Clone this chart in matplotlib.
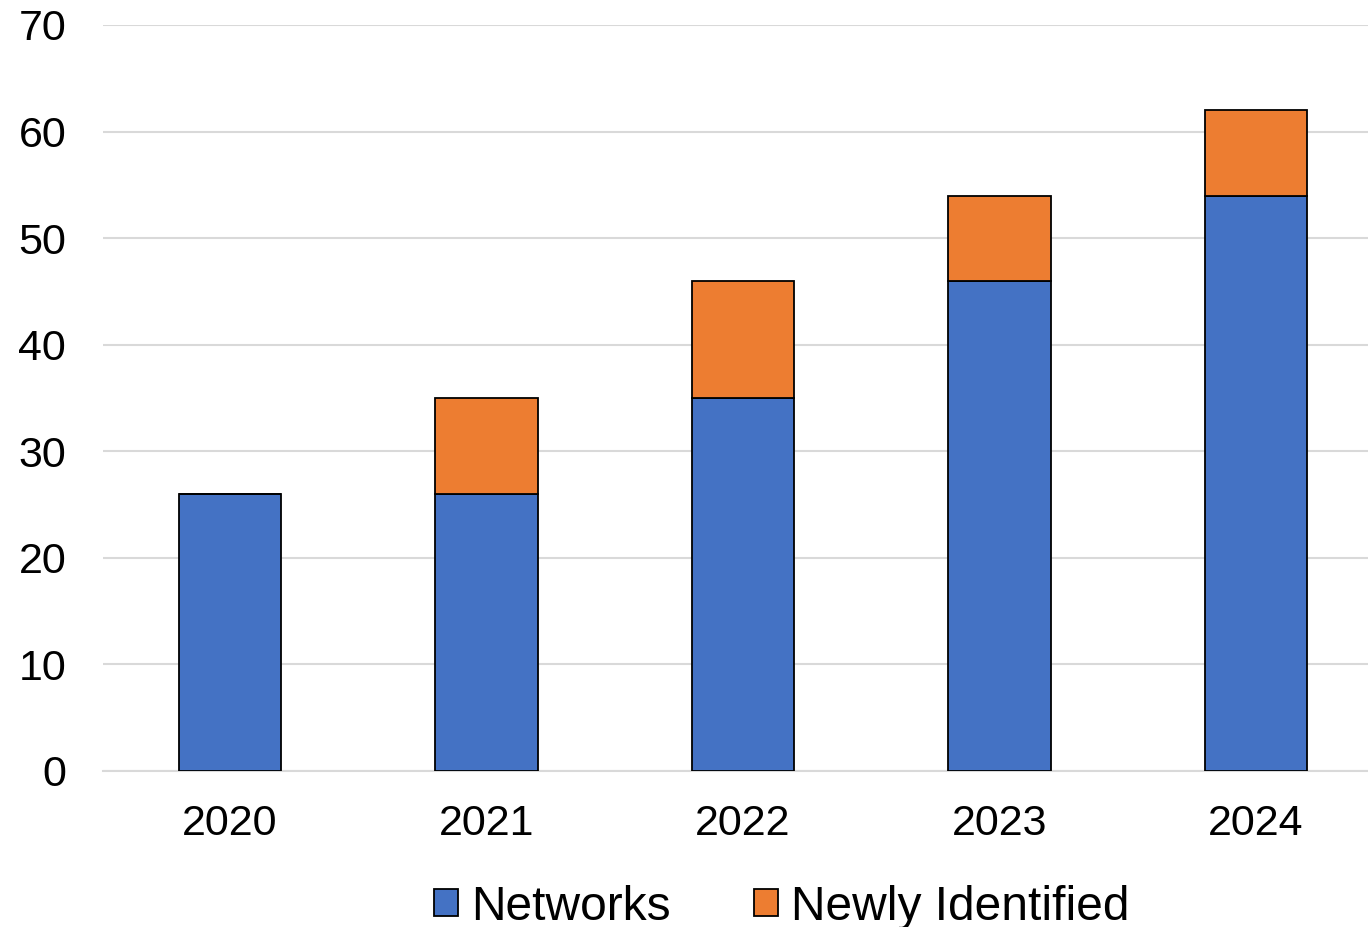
import matplotlib.pyplot as plt
import numpy as np

plt.rcParams['font.family'] = ['Liberation Sans', 'DejaVu Sans']

years = ['2020', '2021', '2022', '2023', '2024']
networks = [26, 26, 35, 46, 54]
newly_identified = [0, 9, 11, 8, 8]

blue = '#4472C4'
orange = '#ED7D31'

fig = plt.figure(figsize=(13.68, 9.27), dpi=100)
ax = fig.add_axes([103 / 1368, 156 / 927, 1 - 103 / 1368, (771 - 25) / 927])

x = np.arange(len(years))
ax.bar(x, networks, width=0.4, color=blue, edgecolor='black', linewidth=1.3,
       label='Networks', zorder=3)
ax.bar(x, newly_identified, width=0.4, bottom=networks, color=orange,
       edgecolor='black', linewidth=1.3, label='Newly Identified', zorder=3)

ax.set_ylim(0, 70)
ax.set_yticks(range(0, 71, 10))
ax.set_xlim(-0.495, 4.437)
ax.set_xticks(x)
ax.set_xticklabels(years)

ax.grid(axis='y', color='#d9d9d9', linewidth=1.5, zorder=0)
for side in ['top', 'right', 'left']:
    ax.spines[side].set_visible(False)
ax.spines['bottom'].set_color('#d9d9d9')
ax.spines['bottom'].set_linewidth(1.5)
ax.tick_params(axis='both', length=0, labelsize=31)
ax.tick_params(axis='y', pad=26.5)
ax.tick_params(axis='x', pad=24)

fig.legend(loc='center', bbox_to_anchor=(782 / 1368, 1 - 907 / 927), ncol=2,
           frameon=False, fontsize=34.5, handlelength=0.5, handleheight=0.5,
           handletextpad=0.27, columnspacing=1.75, borderaxespad=0)

fig.savefig('out.png', dpi=100)
